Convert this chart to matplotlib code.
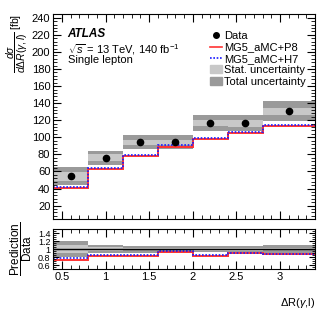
import numpy as np
import matplotlib
matplotlib.use('Agg')
import matplotlib.pyplot as plt
from matplotlib.ticker import MultipleLocator, FormatStrFormatter
from matplotlib.lines import Line2D
from matplotlib.patches import Patch

plt.rcParams['font.family'] = ['Liberation Sans', 'DejaVu Sans']
plt.rcParams['mathtext.fontset'] = 'custom'
plt.rcParams['mathtext.rm'] = 'Liberation Sans'
plt.rcParams['mathtext.it'] = 'Liberation Sans:italic'
plt.rcParams['mathtext.bf'] = 'Liberation Sans:bold'

# Бины и значения
edges = np.array([0.4, 0.8, 1.2, 1.6, 2.0, 2.4, 2.8, 3.4])
data = np.array([54.2, 76.0, 94.2, 94.4, 116.8, 116.6, 130.7])
stat_unc = np.array([5.5, 4.0, 3.0, 3.0, 4.0, 4.0, 4.0])
total_unc = np.array([10.5, 8.0, 8.0, 8.0, 9.0, 9.0, 12.0])
pred_p8 = np.array([40.2, 62.5, 78.3, 88.6, 97.7, 104.5, 113.3])
pred_h7 = np.array([42.3, 64.0, 79.5, 90.5, 99.3, 106.0, 114.5])

centers = 0.5 * (edges[:-1] + edges[1:])
widths = np.diff(edges)

c_stat = '#c8c8c8'
c_tot = '#9a9a9a'
c_p8 = '#ff3333'
c_h7 = '#1a1aff'

fig = plt.figure(figsize=(3.32, 3.19), dpi=100)
ax = fig.add_axes([0.16, 0.3125, 0.789, 0.6425])
rax = fig.add_axes([0.16, 0.156, 0.789, 0.126])


def step_line(a, values, **kw):
    a.stairs(values, edges, baseline=None, **kw)


# Основная панель
ax.bar(edges[:-1], 2 * total_unc, bottom=data - total_unc, width=widths,
       align='edge', color=c_tot, lw=0)
ax.bar(edges[:-1], 2 * stat_unc, bottom=data - stat_unc, width=widths,
       align='edge', color=c_stat, lw=0)
step_line(ax, pred_p8, color=c_p8, lw=1.4)
step_line(ax, pred_h7, color=c_h7, lw=1.2, linestyle=(0, (1, 1)))
ax.plot(centers, data, 'o', color='black', ms=4.5)

ax.set_xlim(0.4, 3.4)
ax.set_ylim(4, 244)
ax.yaxis.set_major_locator(MultipleLocator(20))
ax.yaxis.set_minor_locator(MultipleLocator(4))
ax.xaxis.set_major_locator(MultipleLocator(0.5))
ax.xaxis.set_minor_locator(MultipleLocator(0.1))
ax.tick_params(labelbottom=False)
ax.set_ylabel(r'$\dfrac{d\sigma}{d\Delta R(\gamma,l)}$ [fb]', loc='top', fontsize=7.5, labelpad=1)

ax.text(0.055, 0.935, 'ATLAS', transform=ax.transAxes, fontsize=8.5,
        fontweight='bold', style='italic', va='top')
ax.text(0.055, 0.865, r'$\sqrt{s}$ = 13 TeV, 140 fb$^{-1}$', transform=ax.transAxes,
        fontsize=8, va='top')
ax.text(0.055, 0.80, 'Single lepton', transform=ax.transAxes, fontsize=8, va='top')

handles = [
    Line2D([], [], marker='o', color='black', ls='none', ms=4),
    Line2D([], [], color=c_p8, lw=1.2),
    Line2D([], [], color=c_h7, lw=1.2, linestyle=(0, (1, 1))),
    Patch(color=c_stat),
    Patch(color=c_tot),
]
labels = ['Data', 'MG5_aMC+P8', 'MG5_aMC+H7', 'Stat. uncertainty', 'Total uncertainty']
ax.legend(handles, labels, loc='upper right', bbox_to_anchor=(0.99, 0.95),
          frameon=False, fontsize=8, handlelength=1.1, handletextpad=0.2,
          labelspacing=0.12, borderaxespad=0.2)

# Панель отношения
rel_stat = stat_unc / data
rel_tot = total_unc / data
rax.bar(edges[:-1], 2 * rel_tot, bottom=1 - rel_tot, width=widths,
        align='edge', color=c_tot, lw=0)
rax.bar(edges[:-1], 2 * rel_stat, bottom=1 - rel_stat, width=widths,
        align='edge', color=c_stat, lw=0)
rax.axhline(1, color='black', lw=1)
step_line(rax, pred_p8 / data, color=c_p8, lw=1.4)
step_line(rax, pred_h7 / data, color=c_h7, lw=1.2, linestyle=(0, (1, 1)))

rax.set_xlim(0.4, 3.4)
rax.set_ylim(0.5, 1.5)
rax.yaxis.set_major_locator(MultipleLocator(0.2))
rax.yaxis.set_minor_locator(MultipleLocator(0.05))
rax.xaxis.set_major_locator(MultipleLocator(0.5))
rax.xaxis.set_minor_locator(MultipleLocator(0.1))
rax.yaxis.set_major_formatter(FormatStrFormatter('%g'))
rax.xaxis.set_major_formatter(FormatStrFormatter('%g'))
rax.set_yticks([0.6, 0.8, 1.0, 1.2, 1.4])
rax.set_ylabel(r'$\dfrac{\mathrm{Prediction}}{\mathrm{Data}}$', fontsize=8.5, labelpad=3)
rax.set_xlabel(r'$\Delta$R($\gamma$,l)', loc='right', fontsize=8, labelpad=10)

for a in (ax, rax):
    a.tick_params(which='both', direction='in', top=True, right=True, labelsize=8, pad=2)
    a.tick_params(which='major', length=6)
    a.tick_params(which='minor', length=3)
rax.tick_params(axis='y', labelsize=6.5)
rax.tick_params(axis='y', which='major', length=4)
rax.tick_params(axis='y', which='minor', length=2)

plt.savefig('out.png', dpi=100)
plt.close()
